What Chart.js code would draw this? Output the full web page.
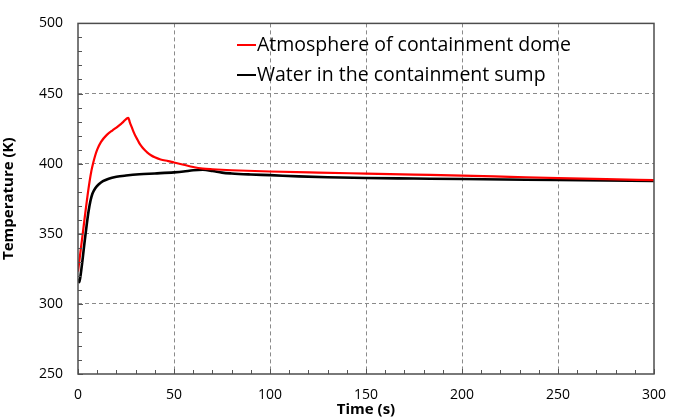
<!DOCTYPE html>
<html>
<head>
<meta charset="utf-8">
<script src="https://cdn.jsdelivr.net/npm/chart.js@4/dist/chart.umd.min.js"></script>
<style>
html,body{margin:0;padding:0;background:#fff;}
#wrap{width:680px;height:419px;position:relative;}
</style>
</head>
<body>
<div id="wrap"><canvas id="c" width="680" height="419"></canvas></div>
<script>
const seriesLabels = ["Atmosphere of containment dome", "Water in the containment sump"];
const seriesColors = ["#ff0000", "#000000"];

const timeDome = [0, 1, 2, 3, 4, 5, 6, 7, 8, 9, 10, 12, 15, 18, 20, 23, 26.2, 27, 28, 29, 30, 31, 32, 33, 34, 35, 36, 38, 40, 43, 47, 50, 55, 60, 65, 70, 80, 100, 125, 150, 175, 200, 225, 250, 275, 300];
const tempDome = [323, 334, 345, 356, 367, 377.5, 387, 395, 401, 406, 410, 415.5, 420.5, 423.8, 425.7, 429, 432.7, 429.5, 426, 422.5, 419.5, 417, 414.5, 412.5, 410.8, 409.3, 408, 406, 404.5, 403, 401.8, 400.8, 399.2, 397.6, 396.5, 396, 395.3, 394.4, 393.6, 392.9, 392.2, 391.5, 390.6, 389.7, 388.9, 388.2];

const timeSump = [0, 0.7, 1.5, 2.5, 3.5, 4.5, 5.5, 6.5, 7.5, 9, 11, 13, 16, 20, 25, 32, 40, 50, 55, 60, 65, 70, 75, 80, 90, 100, 115, 130, 150, 175, 200, 250, 300];
const tempSump = [318, 315.5, 322, 333, 345, 356, 366, 373.5, 378.5, 382.5, 385.5, 387.5, 389.3, 390.6, 391.5, 392.4, 393, 393.8, 394.4, 395.3, 395.6, 394.8, 393.6, 393, 392.3, 391.8, 390.9, 390.3, 389.8, 389.4, 389, 388.3, 387.6];

const xTicks = [0, 50, 100, 150, 200, 250, 300];
const yTicks = [250, 300, 350, 400, 450, 500];

const FONT = "'Open Sans', 'Liberation Sans', sans-serif";

function toPoints(xs, ys){ return xs.map((x,i)=>({x:x, y:ys[i]})); }

const frameAndMinor = {
  id: 'frameAndMinor',
  afterDatasetsDraw(chart){
    const {ctx, chartArea:a, scales:{x, y}} = chart;
    ctx.save();
    ctx.strokeStyle = '#555';
    ctx.lineWidth = 1;
    ctx.beginPath();
    for (let v = 0; v <= 300; v += 10) {
      const px = Math.round(x.getPixelForValue(v)) + 0.5;
      const len = (v % 50 === 0) ? 5 : 4;
      ctx.moveTo(px, a.bottom); ctx.lineTo(px, a.bottom - len);
    }
    for (let v = 250; v <= 500; v += 10) {
      const py = Math.round(y.getPixelForValue(v)) + 0.5;
      const len = (v % 50 === 0) ? 5 : 4;
      ctx.moveTo(a.left, py); ctx.lineTo(a.left + len, py);
    }
    ctx.stroke();
    ctx.strokeStyle = '#4d4d4d';
    ctx.lineWidth = 1.5;
    ctx.strokeRect(a.left, a.top, a.right - a.left, a.bottom - a.top);
    ctx.restore();
  }
};

const insideLegend = {
  id: 'insideLegend',
  afterDraw(chart){
    const {ctx} = chart;
    ctx.save();
    ctx.font = "19.5px " + FONT;
    ctx.textBaseline = 'middle';
    ctx.textAlign = 'left';
    const rows = [45, 75];
    chart.data.datasets.forEach((ds, i) => {
      const yy = rows[i];
      ctx.strokeStyle = ds.borderColor;
      ctx.lineWidth = 2;
      ctx.beginPath();
      ctx.moveTo(237, yy); ctx.lineTo(256, yy);
      ctx.stroke();
      ctx.fillStyle = '#000';
      ctx.fillText(ds.label, 257, yy);
    });
    ctx.restore();
  }
};

new Chart(document.getElementById('c'), {
  type: 'line',
  data: {
    datasets: [
      { label: seriesLabels[0], data: toPoints(timeDome, tempDome), borderColor: seriesColors[0], backgroundColor: seriesColors[0], borderWidth: 2.2, pointRadius: 0, cubicInterpolationMode: 'monotone', fill: false },
      { label: seriesLabels[1], data: toPoints(timeSump, tempSump), borderColor: seriesColors[1], backgroundColor: seriesColors[1], borderWidth: 2.6, pointRadius: 0, cubicInterpolationMode: 'monotone', fill: false }
    ]
  },
  options: {
    responsive: false,
    animation: false,
    devicePixelRatio: 1,
    layout: { padding: { left: 0, top: 15, right: 26, bottom: 0 } },
    plugins: { legend: { display: false }, tooltip: { enabled: false } },
    scales: {
      x: {
        type: 'linear', min: 0, max: 300,
        afterBuildTicks: s => { s.ticks = xTicks.map(v => ({value: v})); },
        afterFit: s => { s.height = 45; },
        ticks: { color: '#000', font: { family: FONT, size: 14 }, padding: 13, maxRotation: 0 },
        grid: { drawTicks: false, color: ctx => (ctx.tick && (ctx.tick.value === 0 || ctx.tick.value === 300)) ? 'rgba(0,0,0,0)' : '#8a8a8a', lineWidth: 1 },
        border: { display: false, dash: [4, 3] },
        title: { display: true, text: 'Time (s)', color: '#000', font: { family: FONT, size: 15, weight: 'bold' }, padding: { top: -4, bottom: 0 } }
      },
      y: {
        type: 'linear', min: 250, max: 500,
        afterBuildTicks: s => { s.ticks = yTicks.map(v => ({value: v})); },
        afterFit: s => { s.width = 78; },
        ticks: { color: '#000', font: { family: FONT, size: 14 }, padding: 15 },
        grid: { drawTicks: false, color: ctx => (ctx.tick && (ctx.tick.value === 250 || ctx.tick.value === 500)) ? 'rgba(0,0,0,0)' : '#8a8a8a', lineWidth: 1 },
        border: { display: false, dash: [4, 3] },
        title: { display: true, text: 'Temperature (K)', color: '#000', font: { family: FONT, size: 15, weight: 'bold' }, padding: { top: 0, bottom: 4 } }
      }
    }
  },
  plugins: [frameAndMinor, insideLegend]
});
</script>
</body>
</html>
